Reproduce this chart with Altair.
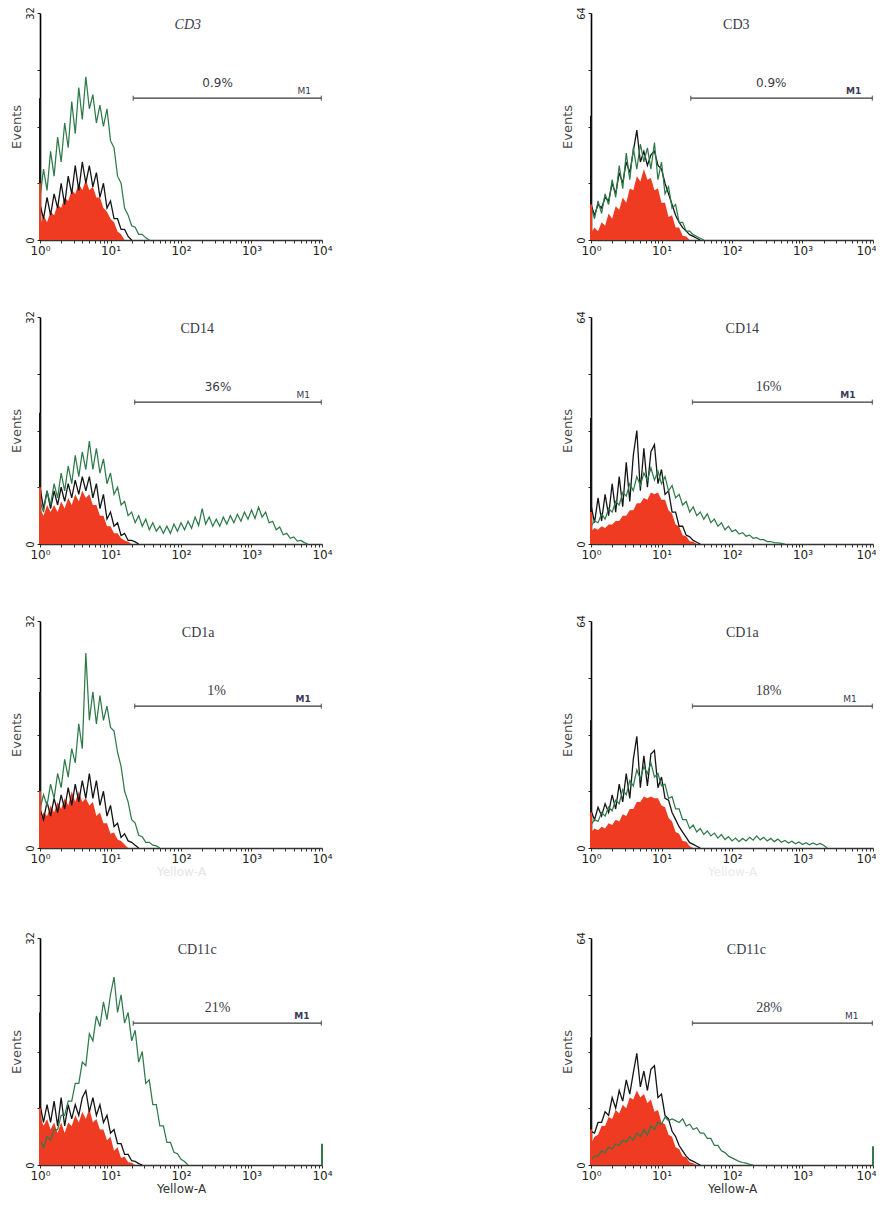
import altair as alt
import pandas as pd

# ---------------- data ----------------
BIN = 0.05  # width (in decades) between plotted channel groups, starting at 10^0

panel_names = ["CD3", "CD3", "CD14", "CD14", "CD1a", "CD1a", "CD11c", "CD11c"]
panel_italic = [True, False, False, False, False, False, False, False]
y_max = [32, 64, 32, 64, 32, 64, 32, 64]
pct_labels = ["0.9%", "0.9%", "36%", "16%", "1%", "18%", "21%", "28%"]
pct_sans = [True, True, True, False, False, False, False, False]
m1_bold = [False, True, False, True, True, False, True, False]
m1_start = [21, 26, 22, 27.5, 22, 27.5, 21, 27.5]
m1_end = [9800, 9800, 9800, 9800, 9800, 9800, 9800, 9800]
title_x = [125, 115, 170, 140, 175, 140, 170, 160]
pct_x = [330, 360, 335, 330, 320, 330, 330, 335]
m1_x = [5600, 5300, 5400, 4400, 5400, 4700, 5200, 5000]

# first-channel pile-ups at 10^0 (black, red) and last-channel counts at 10^4 (green)
black_pile = [20, 35, 18.5, 35.5, 22, 36, 21.5, 36]
red_pile = [8, 10, 8, 9, 8, 10, 8, 10]
green_end = [0, 0, 0, 0, 0, 0, 3, 5.3]

red_vals = [
    [2, 3.5, 2.5, 4, 3.5, 5, 4.5, 6, 5.5, 7, 6.5, 8, 7, 8.5, 7, 7.5, 6, 6, 4.5, 4, 3, 2.5, 1.2, 0.8, 0],
    [2, 3.5, 2.5, 5, 4, 7.5, 6, 9.5, 8.5, 12, 10.5, 14.5, 14, 18, 16.5, 20, 17, 17.5, 14, 14.5, 10.5, 10.5, 6.5, 7, 3.5, 3.5, 1.2, 1, 0],
    [5, 4, 5.5, 4.5, 5.5, 4.5, 6, 5, 6.5, 5.5, 7, 6, 7.5, 6.5, 7, 5.5, 5.5, 4, 4, 2.5, 2.5, 1.5, 1.5, 0.8, 0.5, 0.3, 0],
    [3.5, 4.5, 4, 5, 4.5, 5.5, 5.5, 6.5, 6.5, 8, 8, 9.5, 9.5, 11.5, 11.5, 13, 12.5, 14.5, 14, 14.5, 12.5, 12.5, 9.5, 8.5, 5.5, 5, 2.5, 2.2, 0.8, 0.6, 0],
    [4, 5, 4.5, 6, 5, 6.5, 5.5, 7, 6, 8, 6.5, 8, 6.5, 7, 6, 6.5, 4.5, 5, 3.5, 3.5, 2, 2.2, 1.2, 1, 0.5, 0],
    [4.5, 5.5, 5, 6, 5.5, 7, 6.5, 8, 7.5, 9.5, 9, 11, 11, 13, 13, 14.5, 14, 14.5, 14, 14, 12, 11.5, 8.5, 7.5, 4.5, 4, 2, 1.8, 0.5, 0],
    [7, 5.5, 6.5, 5, 6, 4.5, 6, 4.5, 6, 5.5, 7, 6, 7.5, 6.5, 8, 6, 6.5, 5, 5, 3.5, 4, 2, 2.5, 1, 1.2, 0.4, 0.3, 0],
    [6, 8, 8.5, 11, 11, 13.5, 13, 15.5, 14.5, 17, 16, 19, 18.5, 21, 19, 20, 17.5, 18.5, 15, 15.5, 12, 11.5, 8.5, 8, 5, 4.5, 2.5, 2.2, 0.8, 0.5, 0],
]

black_vals = [
    [5, 3, 6, 3.5, 6.5, 4.5, 8, 5, 9, 6.5, 10.5, 7, 11, 8, 10.5, 7.5, 9.5, 6, 8, 4.5, 5.5, 3, 3, 1.5, 1.5, 0.5, 0],
    [10, 7, 10, 9, 12, 11, 16, 13, 19, 16, 22, 19, 25, 31, 22, 25, 21, 24, 25, 21, 20, 16, 13, 10, 7, 5, 3.5, 2.5, 1.5, 1, 0.5, 0],
    [8, 5, 7.5, 5, 7.5, 5.5, 8, 6, 8.5, 6.5, 9, 7, 9.5, 7.5, 9.5, 6.5, 8.5, 5, 7, 3.5, 4.5, 2.5, 3, 1.2, 1.5, 0.5, 0.5, 0.3, 0],
    [11, 6, 13, 6.5, 14, 8, 17, 9, 19, 10.5, 23, 12, 25, 32, 15, 27, 16, 26, 28, 17, 21, 14, 15, 9, 9, 5, 5, 2.5, 2, 1, 0.5, 0],
    [5.5, 4, 6.5, 4.5, 7, 5, 7.5, 5.5, 8.5, 6, 9, 6.5, 9.5, 7, 10.5, 7, 9.5, 6, 8, 4.5, 6, 3, 3.5, 1.5, 2, 1, 0.8, 0.4, 0],
    [10.5, 8, 11.5, 9, 12.5, 10, 15, 11, 18, 13, 21, 14, 25, 31.5, 17, 26, 17.5, 26.5, 27.5, 17, 20, 14, 13.5, 10, 8, 6, 4.5, 3, 1.5, 1, 0.5, 0],
    [8.5, 6, 8.5, 6, 9, 5.5, 9.5, 5.5, 8.5, 6.5, 8.5, 7, 9.5, 10.5, 7.5, 9.5, 7, 8.5, 6, 7, 4.5, 5, 3, 3, 1.5, 1.5, 0.6, 0.5, 0.2, 0],
    [9.5, 9, 12, 12, 15, 14, 19, 16, 21, 18, 24, 20, 26, 31.5, 22, 26.5, 21, 27, 28, 19, 20, 14, 13, 9.5, 8, 5.5, 4, 2.5, 1.5, 1, 0.5, 0],
]

green_vals = [
    [6, 10, 7, 12.5, 9, 14.5, 11, 16.5, 13, 19.5, 15, 21.5, 17, 23, 18.5, 20.5, 16.5, 19, 16, 18.5,
     14, 13, 9, 8, 4.5, 3.5, 2, 1.8, 0.8, 0.8, 0.3, 0],
    [9.5, 6, 11, 7.5, 13, 10, 17, 12, 21, 14.5, 24.5, 17, 26, 20, 27, 22, 26, 20, 27.5, 17,
     22, 13, 15, 9, 10, 5, 5, 2.5, 2.5, 1.5, 1, 0.5, 0],
    [6, 4.5, 7.5, 5.5, 8.5, 6.5, 10, 7.5, 11, 8.5, 12.5, 9.5, 13, 10.5, 14.5, 10.5, 13.5, 10, 12, 8.5,
     10, 7, 8, 5.5, 6, 4, 4.5, 3, 4, 2.5, 3.5, 2, 3, 1.8, 2.5, 1.5, 2.5, 1.5, 2.8, 1.8,
     3, 2, 3.2, 2.2, 3.8, 2.6, 5, 2.8, 3.8, 2.5, 3.5, 2.5, 3.8, 2.8, 4, 3, 4.2, 3.2, 4.5, 3.5,
     4.8, 3.6, 5.2, 3.8, 4.5, 3, 3.2, 2, 2.4, 1.3, 1.5, 0.8, 1, 0.4, 0.5, 0.2, 0],
    [5, 6.5, 6, 8.5, 7, 10, 9, 12, 11, 14.5, 13.5, 17, 15, 19, 16.5, 20, 18, 21.5, 18, 20.5,
     17, 19, 15, 16.5, 13, 14, 11, 12, 9, 10.5, 8, 9, 7, 8.5, 6, 7, 5, 6, 4, 5,
     3.5, 4, 2.8, 3.2, 2.2, 2.5, 1.6, 1.8, 1.2, 1.2, 0.7, 0.7, 0.4, 0.3, 0.2, 0],
    [5.5, 7.5, 6, 9, 7, 10.5, 8.5, 12.5, 10, 14, 12, 17.5, 14, 27.5, 18, 22, 17.5, 21.5, 18, 20,
     17, 16.5, 13.5, 11.5, 8, 6.5, 4, 3.5, 1.8, 1.6, 0.8, 0.8, 0.4, 0.3, 0],
    [6.5, 8, 7.5, 10, 9, 11.5, 10.5, 13.5, 12.5, 16.5, 15, 19, 17.5, 22, 19.5, 23, 21, 24, 20, 21,
     17.5, 18, 14, 14.5, 11, 11, 8, 8, 5.5, 6.5, 4.5, 5.5, 3.8, 4.8, 3.4, 4.2, 2.8, 3.8, 2.4, 3.2,
     2, 2.8, 1.8, 2.7, 2, 3, 2.2, 3.4, 2.3, 3, 2, 2.7, 1.8, 2.5, 1.6, 2.1, 1.4, 1.9, 1.2, 1.7,
     1, 1.5, 0.9, 1.4, 0.9, 1.3, 0.8, 0],
    [3.5, 2.5, 4, 3.5, 5, 5, 7, 7, 9, 9, 11.5, 11.5, 14.5, 14, 18.5, 17.5, 21, 19.5, 23, 20.5,
     24, 26.5, 21.5, 24, 20, 21.5, 17.5, 19, 14.5, 16, 11.5, 12, 8.5, 8.5, 5.5, 5.5, 3.2, 3.2, 1.8, 1.6,
     0.8, 0.5, 0],
    [1.5, 2.5, 2.5, 4, 3.5, 5, 4.5, 6, 5.5, 7, 6.5, 8, 7, 9, 8, 10, 8.5, 11, 10, 12,
     11.5, 13.5, 12.5, 13, 12.5, 12, 13, 11, 11.5, 10, 10.5, 9, 9, 7.5, 7.5, 5.5, 5.5, 4, 3.5, 2.5,
     2, 1.5, 1, 0.7, 0.5, 0.2, 0],
]

# ---------------- styling ----------------
RED = "#ee3b22"
BLACK = "#141414"
GREEN = "#2f7a4a"
TEXT = "#3a3a48"
W, H = 282, 227
SANS = "DejaVu Sans, Liberation Sans, Arial"
SERIF = "Liberation Serif, Times New Roman, serif"

x_tick_values = [m * 10 ** e for e in range(4) for m in range(1, 10)] + [10000]


def hist_df(values, series):
    return pd.DataFrame({"x": [10 ** (k * BIN) for k in range(len(values))],
                         "y": values, "series": series})


def panel(i, show_x_title=False, x_title_color="#333333"):
    ymx = y_max[i]
    right_col = (i % 2 == 1)
    xs = alt.Scale(type="log", domain=[1, 10000], nice=False)
    ys = alt.Scale(domain=[0, ymx], nice=False, zero=True)
    extra = {}
    if right_col:
        # keep the last decade label inside the page edge
        extra["labelAlign"] = {"condition": {"test": "datum.value == 10000", "value": "right"}, "value": "center"}
        extra["labelOffset"] = {"condition": {"test": "datum.value == 10000", "value": 3}, "value": 0}
    x_axis = alt.Axis(
        values=x_tick_values,
        labelExpr="indexof([1,10,100,1000,10000], datum.value) >= 0 ? '10' + ['\u2070','\u00b9','\u00b2','\u00b3','\u2074'][round(log(datum.value)/LN10)] : ''",
        labelOverlap=False, labelFlush=False, grid=False,
        tickSize=3, tickColor="#333333", domainColor="#333333", domainWidth=1.5,
        labelFont=SANS, labelFontSize=12, labelColor="#222222", labelPadding=2,
        title="Yellow-A" if show_x_title else None,
        titleFont=SANS, titleFontSize=12, titleFontWeight="normal", titleColor=x_title_color, titlePadding=2,
        **extra,
    )
    y_axis = alt.Axis(
        values=[0, ymx / 4, ymx / 2, 3 * ymx / 4, ymx],
        labelExpr=f"datum.value == 0 || datum.value == {ymx} ? datum.label : ''",
        labelAngle=270, labelOverlap=False, labelFlush=False, grid=False,
        tickSize=3, tickColor="#222222", domainColor="#000000", domainWidth=1.6,
        labelFont=SANS, labelFontSize=10, labelColor="#222222", labelPadding=2,
        title="Events", titleFont=SANS, titleFontSize=13, titleFontWeight="normal",
        titleColor="#4a4a4a", titlePadding=2,
    )
    X = alt.X("x:Q", scale=xs, axis=x_axis)
    Y = alt.Y("y:Q", scale=ys, axis=y_axis)
    X2 = alt.X("x:Q", scale=xs)
    Y2 = alt.Y("y:Q", scale=ys)

    red = alt.Chart(hist_df(red_vals[i], "red")).mark_area(
        interpolate="linear", color=RED, opacity=1).encode(x=X, y=Y)
    black = alt.Chart(hist_df(black_vals[i], "black")).mark_line(
        interpolate="linear", color=BLACK, strokeWidth=1.3).encode(x=X2, y=Y2)
    green = alt.Chart(hist_df(green_vals[i], "green")).mark_line(
        interpolate="linear", color=GREEN, strokeWidth=1.25).encode(x=X2, y=Y2)

    piles = pd.DataFrame({"x": [1, 1, 10000], "y": [0, 0, 0],
                          "top": [black_pile[i], red_pile[i], green_end[i]],
                          "series": ["black", "red", "green"]})
    pile = alt.Chart(piles).mark_rule(strokeWidth=2).encode(
        x=X2, y=Y2, y2="top:Q",
        color=alt.Color("series:N", scale=alt.Scale(domain=["black", "red", "green"],
                                                    range=[BLACK, RED, GREEN]), legend=None))

    m1 = pd.DataFrame({"x": [m1_start[i]], "x2": [m1_end[i]], "y": [ymx * 0.625]})
    bar = alt.Chart(m1).mark_rule(color="#3a3a3a", strokeWidth=1.3).encode(x=X2, x2="x2:Q", y=Y2)
    ends = pd.DataFrame({"x": [m1_start[i], m1_end[i]], "y": [ymx * 0.625] * 2})
    ticks = alt.Chart(ends).mark_tick(orient="vertical", size=5, thickness=1.3, color="#3a3a3a").encode(x=X2, y=Y2)

    t1 = alt.Chart(pd.DataFrame({"x": [title_x[i]], "y": [ymx * 0.945], "t": [panel_names[i]]})).mark_text(
        font=SERIF, fontSize=14, color=TEXT, fontStyle="italic" if panel_italic[i] else "normal",
        align="center", baseline="middle").encode(x=X2, y=Y2, text="t:N")
    t2 = alt.Chart(pd.DataFrame({"x": [pct_x[i]], "y": [ymx * 0.69], "t": [pct_labels[i]]})).mark_text(
        font=SANS if pct_sans[i] else SERIF, fontSize=12 if pct_sans[i] else 14, color=TEXT,
        align="center", baseline="middle").encode(x=X2, y=Y2, text="t:N")
    t3 = alt.Chart(pd.DataFrame({"x": [m1_x[i]], "y": [ymx * 0.655], "t": ["M1"]})).mark_text(
        font=SANS, fontSize=9, color="#3a3a55", fontWeight="bold" if m1_bold[i] else "normal",
        align="center", baseline="middle").encode(x=X2, y=Y2, text="t:N")

    return alt.layer(red, black, green, pile, bar, ticks, t1, t2, t3).properties(width=W, height=H)


rows = []
for r in range(4):
    li, ri = 2 * r, 2 * r + 1
    if r == 2:
        left = panel(li, True, "#e4e4e4")
        right = panel(ri, True, "#eaeaea")
    elif r == 3:
        left = panel(li, True)
        right = panel(ri, True)
    else:
        left = panel(li)
        right = panel(ri)
    rows.append(alt.hconcat(left, right, spacing=228))

top = alt.vconcat(rows[0], rows[1], rows[2], spacing=54)
chart = alt.vconcat(top, rows[3], spacing=54).properties(
    padding={"left": 2, "top": -2, "right": 0, "bottom": 0},
    background="white",
).configure_view(strokeWidth=0, stroke="transparent")

chart.save("out.html", embed_options={"renderer": "svg", "actions": False})
